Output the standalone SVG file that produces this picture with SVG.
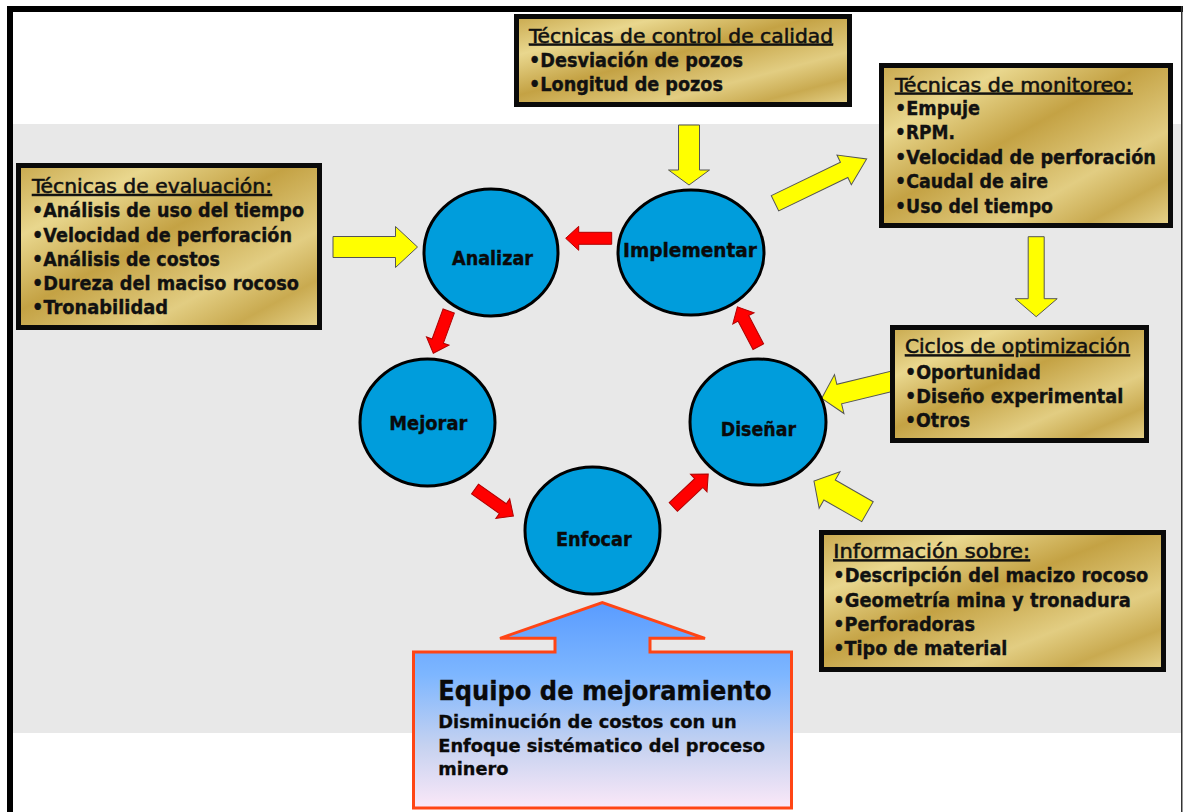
<svg xmlns="http://www.w3.org/2000/svg" width="1183" height="812" viewBox="0 0 1183 812">
<defs>
<linearGradient id="gold" x1="0" y1="0" x2="1" y2="1">
<stop offset="0" stop-color="#c9a94e"/>
<stop offset="0.22" stop-color="#e9d78e"/>
<stop offset="0.45" stop-color="#c4a244"/>
<stop offset="0.7" stop-color="#e2cd82"/>
<stop offset="0.85" stop-color="#c9aa50"/>
<stop offset="1" stop-color="#e6d38c"/>
</linearGradient>
<linearGradient id="blueg" x1="0" y1="0" x2="0" y2="1">
<stop offset="0" stop-color="#5a9cff"/>
<stop offset="0.35" stop-color="#7db6ff"/>
<stop offset="0.7" stop-color="#c6d2f0"/>
<stop offset="1" stop-color="#fbe8f8"/>
</linearGradient>
<style>
.box{fill:url(#gold);stroke:#0a0a0a;stroke-width:5}
.t{font-family:"DejaVu Sans",Verdana,sans-serif;font-stretch:condensed;font-size:19.5px;fill:#111}
.ti{text-decoration:underline;font-weight:normal;stroke:#111;stroke-width:0.5}
.b{font-weight:bold;stroke:#111;stroke-width:0.35}
.circ{fill:#009ddc;stroke:#000;stroke-width:3}
.ct{font-family:"DejaVu Sans",Verdana,sans-serif;font-stretch:condensed;font-weight:bold;font-size:20px;fill:#0a0a0a;stroke:#0a0a0a;stroke-width:0.35}
.et{font-family:"DejaVu Sans",Verdana,sans-serif;font-stretch:condensed;font-weight:bold;fill:#0a0a0a;stroke:#0a0a0a;stroke-width:0.3}
.red{fill:#ff0000;stroke:#b00000;stroke-width:1}
.yel{fill:#ffff00;stroke:#555;stroke-width:1}
</style>
</defs>
<rect x="0" y="0" width="1183" height="812" fill="#ffffff"/>
<rect x="12" y="124" width="1170" height="609" fill="#e8e8e8"/>
<rect x="7" y="6" width="1176" height="6" fill="#000"/>
<rect x="7" y="6" width="6" height="806" fill="#000"/>
<rect x="1181" y="6" width="1.5" height="806" fill="#333"/>

<g id="connectors">
<path class="red" d="M0,-6 H33 V-12 L46,0 L33,12 V6 H0 Z" transform="translate(611.7,238.3) rotate(180)"/>
<path class="red" d="M0,-6 H32 V-12 L45,0 L32,12 V6 H0 Z" transform="translate(448.7,311) rotate(110)"/>
<path class="red" d="M0,-6 H34 V-12 L47,0 L34,12 V6 H0 Z" transform="translate(475,489) rotate(35.2)"/>
<path class="red" d="M0,-6 H35 V-12 L48,0 L35,12 V6 H0 Z" transform="translate(673.3,507) rotate(-43.3)"/>
<path class="red" d="M0,-6 H32 V-12 L45,0 L32,12 V6 H0 Z" transform="translate(758.3,346.7) rotate(-117.7)"/>
<path class="yel" d="M0,-10.5 H62.5 V-20.5 L84.5,0 L62.5,20.5 V10.5 H0 Z" transform="translate(333,247)"/>
<path class="yel" d="M0,-10.5 H45 V-20.5 L60,0 L45,20.5 V10.5 H0 Z" transform="translate(689,125) rotate(90)"/>
<path class="yel" d="M0,-8.5 H76.8 V-16.5 L101.8,0 L76.8,16.5 V8.5 H0 Z" transform="translate(775,203.3) rotate(-25.8)"/>
<path class="yel" d="M0,-8 H62 V-21 L80,0 L62,21 V8 H0 Z" transform="translate(1036.2,236.7) rotate(90)"/>
<path class="yel" d="M0,-10 H57.4 V-20 L75.4,0 L57.4,20 V10 H0 Z" transform="translate(895,380.5) rotate(166.35)"/>
<path class="yel" d="M0,-11.5 H43.7 V-21 L61.7,0 L43.7,21 V11.5 H0 Z" transform="translate(867.5,511.7) rotate(209.8)"/>
</g>

<g id="analizar">
<ellipse class="circ" cx="491" cy="252.5" rx="67" ry="63.5"/>
<text class="ct" x="452" y="265" textLength="81" lengthAdjust="spacingAndGlyphs">Analizar</text>
</g>
<g id="implementar">
<ellipse class="circ" cx="691" cy="252.5" rx="73" ry="62.5"/>
<text class="ct" x="623" y="257.3" textLength="134" lengthAdjust="spacingAndGlyphs">Implementar</text>
</g>
<g id="mejorar">
<ellipse class="circ" cx="427.5" cy="422.5" rx="67.5" ry="63.5"/>
<text class="ct" x="389.3" y="429.5" textLength="78" lengthAdjust="spacingAndGlyphs">Mejorar</text>
</g>
<g id="disenar">
<ellipse class="circ" cx="758" cy="422" rx="68" ry="63"/>
<text class="ct" x="720.7" y="436" textLength="75.3" lengthAdjust="spacingAndGlyphs">Diseñar</text>
</g>
<g id="enfocar">
<ellipse class="circ" cx="592.5" cy="530.5" rx="67.5" ry="63.5"/>
<text class="ct" x="556" y="545.7" textLength="75.7" lengthAdjust="spacingAndGlyphs">Enfocar</text>
</g>

<g id="box-evaluacion">
<rect class="box" x="18.5" y="165.5" width="301" height="162"/>
<text class="t ti" x="32" y="193" textLength="240" lengthAdjust="spacingAndGlyphs">Técnicas de evaluación:</text>
<text class="t b" x="32" y="217" textLength="272" lengthAdjust="spacingAndGlyphs">•Análisis de uso del tiempo</text>
<text class="t b" x="32" y="242" textLength="260" lengthAdjust="spacingAndGlyphs">•Velocidad de perforación</text>
<text class="t b" x="32" y="265.5" textLength="188" lengthAdjust="spacingAndGlyphs">•Análisis de costos</text>
<text class="t b" x="32" y="290" textLength="267" lengthAdjust="spacingAndGlyphs">•Dureza del maciso rocoso</text>
<text class="t b" x="32" y="313.5" textLength="136" lengthAdjust="spacingAndGlyphs">•Tronabilidad</text>
</g>

<g id="box-control">
<rect class="box" x="516.5" y="16.5" width="333" height="88"/>
<text class="t ti" x="529" y="42.7" textLength="304" lengthAdjust="spacingAndGlyphs">Técnicas de control de calidad</text>
<text class="t b" x="529" y="66.7" textLength="214" lengthAdjust="spacingAndGlyphs">•Desviación de pozos</text>
<text class="t b" x="529" y="90.7" textLength="194" lengthAdjust="spacingAndGlyphs">•Longitud de pozos</text>
</g>

<g id="box-monitoreo">
<rect class="box" x="881.5" y="65.5" width="289" height="160"/>
<text class="t ti" x="895" y="91.7" textLength="237.7" lengthAdjust="spacingAndGlyphs">Técnicas de monitoreo:</text>
<text class="t b" x="895" y="115" textLength="85" lengthAdjust="spacingAndGlyphs">•Empuje</text>
<text class="t b" x="895" y="139.3" textLength="60" lengthAdjust="spacingAndGlyphs">•RPM.</text>
<text class="t b" x="895" y="164" textLength="261" lengthAdjust="spacingAndGlyphs">•Velocidad de perforación</text>
<text class="t b" x="895" y="188.3" textLength="153" lengthAdjust="spacingAndGlyphs">•Caudal de aire</text>
<text class="t b" x="895" y="212.7" textLength="158" lengthAdjust="spacingAndGlyphs">•Uso del tiempo</text>
</g>

<g id="box-ciclos">
<rect class="box" x="892.5" y="327.5" width="254" height="113"/>
<text class="t ti" x="905" y="353.3" textLength="225" lengthAdjust="spacingAndGlyphs">Ciclos de optimización</text>
<text class="t b" x="905" y="379" textLength="135.7" lengthAdjust="spacingAndGlyphs">•Oportunidad</text>
<text class="t b" x="905" y="402.7" textLength="218.3" lengthAdjust="spacingAndGlyphs">•Diseño experimental</text>
<text class="t b" x="905" y="426.7" textLength="65" lengthAdjust="spacingAndGlyphs">•Otros</text>
</g>

<g id="box-informacion">
<rect class="box" x="821.5" y="532.5" width="342" height="137"/>
<text class="t ti" x="833.3" y="558.3" textLength="196.7" lengthAdjust="spacingAndGlyphs">Información sobre:</text>
<text class="t b" x="833.3" y="581.7" textLength="315" lengthAdjust="spacingAndGlyphs">•Descripción del macizo rocoso</text>
<text class="t b" x="833.3" y="606.7" textLength="297.4" lengthAdjust="spacingAndGlyphs">•Geometría mina y tronadura</text>
<text class="t b" x="833.3" y="630.7" textLength="141.7" lengthAdjust="spacingAndGlyphs">•Perforadoras</text>
<text class="t b" x="833.3" y="655" textLength="174" lengthAdjust="spacingAndGlyphs">•Tipo de material</text>
</g>

<g id="equipo">
<path d="M413.5,652 H555 V638.3 H500 L602.3,602.7 L705,638.3 H650 V652 H791.5 V808 H413.5 Z" fill="url(#blueg)" stroke="#ff4515" stroke-width="3"/>
<text class="et" x="438.3" y="700" font-size="26" textLength="333.4" lengthAdjust="spacingAndGlyphs">Equipo de mejoramiento</text>
<text class="et" x="438.3" y="727.7" font-size="18" textLength="298.4" lengthAdjust="spacingAndGlyphs">Disminución de costos con un</text>
<text class="et" x="438.3" y="751.7" font-size="18" textLength="326.7" lengthAdjust="spacingAndGlyphs">Enfoque sistématico del proceso</text>
<text class="et" x="438.3" y="775" font-size="18" textLength="70" lengthAdjust="spacingAndGlyphs">minero</text>
</g>
</svg>
